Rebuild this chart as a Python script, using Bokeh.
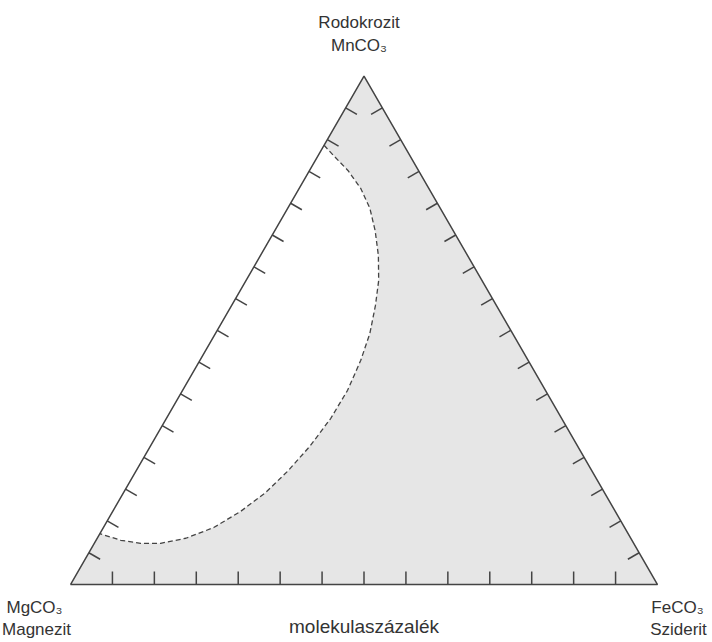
import numpy as np
from bokeh.plotting import figure
from bokeh.models import Range1d
from bokeh.core.properties import value
from bokeh.embed import file_html
from bokeh.resources import INLINE

# ---- data -------------------------------------------------------------
apex_label = ["Rodokrozit", "MnCO\u2083"]
left_label = ["MgCO\u2083", "Magnezit"]
right_label = ["FeCO\u2083", "Sziderit"]
axis_caption = "molekulaszázalék"

base_divisions = 14
side_divisions = 16

# boundary of the miscibility gap (mole fractions of MnCO3 and FeCO3; MgCO3 = rest)
gap_mn = [0.864, 0.844, 0.814, 0.779, 0.740, 0.696, 0.647, 0.598, 0.549, 0.494, 0.441, 0.382,
          0.327, 0.273, 0.224, 0.181, 0.144, 0.112, 0.091, 0.081, 0.081, 0.087, 0.100]
gap_fe = [0.000, 0.026, 0.066, 0.105, 0.140, 0.171, 0.201, 0.226, 0.245, 0.263, 0.274, 0.281,
          0.280, 0.272, 0.259, 0.242, 0.218, 0.188, 0.151, 0.113, 0.079, 0.042, 0.000]

# ---- helpers ----------------------------------------------------------
S3 = np.sqrt(3) / 2


def tern(mn, fe):
    mn = np.asarray(mn, float)
    fe = np.asarray(fe, float)
    return fe + 0.5 * mn, S3 * mn


PX = 587.0  # pixels per data unit
W, H = 712, 642
x0 = -70 / PX
ytop = 584 / PX
y0 = ytop - H / PX

p = figure(width=W, height=H, output_backend="svg", toolbar_location=None,
           x_range=Range1d(x0, x0 + W / PX), y_range=Range1d(y0, ytop),
           min_border=0, outline_line_color=None, background_fill_color="white")
p.axis.visible = False
p.grid.visible = False

A = np.array([0.0, 0.0])      # MgCO3
B = np.array([1.0, 0.0])      # FeCO3
C = np.array([0.5, S3])       # MnCO3

# grey triangle
p.patch([A[0], B[0], C[0]], [A[1], B[1], C[1]], fill_color="#e6e6e6", line_color=None)

# white miscibility gap
gx, gy = tern(gap_mn, gap_fe)
p.patch(list(gx), list(gy), fill_color="white", line_color=None)

# ticks
tick_len = 13 / PX
xs, ys = [], []
for k in range(1, base_divisions):
    t = k / base_divisions
    P = A + t * (B - A)
    xs.append([P[0], P[0]]); ys.append([P[1], P[1] + tick_len])
for start, end in ((A, C), (C, B)):
    d = (end - start) / np.linalg.norm(end - start)
    n = np.array([d[1], -d[0]])
    cen = np.array([0.5, S3 / 3])
    for k in range(1, side_divisions):
        t = k / side_divisions
        P = start + t * (end - start)
        nn = n if np.dot(cen - P, n) > 0 else -n
        Q = P + nn * tick_len
        xs.append([P[0], Q[0]]); ys.append([P[1], Q[1]])
p.multi_line(xs, ys, line_color="#444444", line_width=1.5)

# triangle outline
p.line([A[0], B[0], C[0], A[0]], [A[1], B[1], C[1], A[1]], line_color="#444444", line_width=1.5)

# dashed boundary
p.line(list(gx), list(gy), line_color="#444444", line_width=1.3, line_dash="5 3")

font = value("Liberation Sans")
common = dict(text_font=font, text_color="#333333", text_align="center", text_baseline="middle")
p.text([C[0]] * 2, [C[1]] * 2, text=apex_label, x_offset=[-5, -5], y_offset=[-54, -31],
       text_font_size="17px", **common)
p.text([A[0]] * 2, [A[1]] * 2, text=left_label, x_offset=[-36, -34], y_offset=[23, 45],
       text_font_size="17px", **common)
p.text([B[0]] * 2, [B[1]] * 2, text=right_label, x_offset=[20, 21], y_offset=[23, 45],
       text_font_size="17px", **common)
p.text([0.5], [0.0], text=[axis_caption], y_offset=[42], text_font_size="19px", **common)

open("out.html", "w").write(file_html(p, INLINE))
